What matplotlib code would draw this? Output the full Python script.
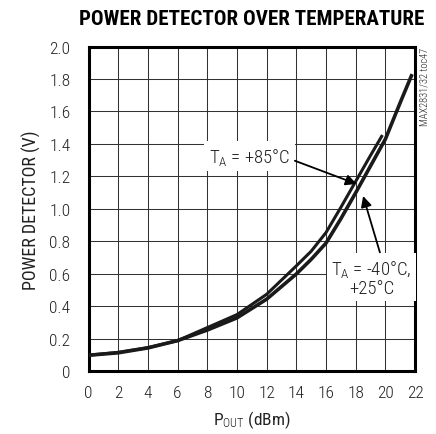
import matplotlib
matplotlib.use("Agg")
import matplotlib.pyplot as plt
from matplotlib import font_manager

# pick a narrow face if one is installed
names = {f.name for f in font_manager.fontManager.ttflist}
narrow = next((n for n in ["Roboto Condensed", "Liberation Sans Narrow", "DejaVu Sans Condensed",
                           "Open Sans Condensed"] if n in names), "DejaVu Sans")
plt.rcParams["font.family"] = [narrow, "DejaVu Sans"]
plt.rcParams["font.stretch"] = "condensed"
plt.rcParams["font.weight"] = "light"
plt.rcParams["mathtext.fontset"] = "custom"
plt.rcParams["mathtext.rm"] = narrow + ":light"
plt.rcParams["mathtext.it"] = narrow + ":light"

# -40C / +25C curve (V vs dBm)
pout_cold = [0, 2, 4, 6, 8, 10, 12, 14, 15, 16, 17, 18, 19, 20, 21, 21.8]
vdet_cold = [0.10, 0.115, 0.145, 0.19, 0.255, 0.33, 0.445, 0.60, 0.69, 0.79,
             0.94, 1.10, 1.265, 1.43, 1.655, 1.83]

# +85C curve
pout_hot = [0, 2, 4, 6, 8, 10, 12, 14, 15, 16, 17, 18, 19, 19.8]
vdet_hot = [0.10, 0.118, 0.147, 0.19, 0.27, 0.35, 0.475, 0.65, 0.74, 0.855,
            1.01, 1.17, 1.33, 1.455]

xticks = list(range(0, 23, 2))
yticks = [0, 0.2, 0.4, 0.6, 0.8, 1.0, 1.2, 1.4, 1.6, 1.8, 2.0]
ytick_labels = ["0", "0.2", "0.4", "0.6", "0.8", "1.0", "1.2", "1.4", "1.6", "1.8", "2.0"]

fig = plt.figure(figsize=(4.36, 4.35), dpi=100)
ax = fig.add_axes([0.203, 0.1437, 0.749, 0.7471])

ax.plot(pout_cold, vdet_cold, color="#1a1a1a", lw=2.6, solid_capstyle="butt", zorder=3)
ax.plot(pout_hot, vdet_hot, color="#1a1a1a", lw=2.2, solid_capstyle="butt", zorder=3)

ax.set_xlim(0, 22)
ax.set_ylim(0, 2.0)
ax.set_xticks(xticks)
ax.set_yticks(yticks)
ax.set_yticklabels(ytick_labels)
ax.tick_params(length=0, labelsize=12.5, colors="#222222")
ax.tick_params(axis="x", pad=10)
ax.tick_params(axis="y", pad=13)
ax.grid(True, color="#333333", lw=0.75)
ax.set_axisbelow(True)
for s in ax.spines.values():
    s.set_linewidth(2.2)
    s.set_color("black")

ax.set_xlabel("P$_\\mathrm{OUT}$ (dBm)", fontsize=12.5, color="#222222", labelpad=6)
ax.set_ylabel("POWER DETECTOR (V)", fontsize=13, color="#222222", labelpad=6)
title = ax.set_title("POWER DETECTOR OVER TEMPERATURE", fontsize=15.5, fontweight="bold", pad=16)

box = dict(boxstyle="square,pad=0.25", fc="white", ec="none")
arrow = dict(arrowstyle="-|>", color="black", lw=1.3, mutation_scale=16, shrinkA=0, shrinkB=0)

ax.text(10.86, 1.326, "T$_\\mathrm{A}$ = +85°C", fontsize=13.5, ha="center", va="center",
        bbox=box, color="#222222", zorder=4)
ax.annotate("", xy=(18.06, 1.154), xytext=(13.9, 1.297), arrowprops=arrow, zorder=5)

ax.text(19.06, 0.578, "T$_\\mathrm{A}$ = -40°C,\n+25°C", fontsize=13.5, ha="center", va="center",
        bbox=box, color="#222222", linespacing=0.95, zorder=4)
ax.annotate("", xy=(18.5, 1.08), xytext=(19.63, 0.733), arrowprops=arrow, zorder=5)

fig.text(0.973, 0.80, "MAX2831/32 toc47", rotation=90, fontsize=7.5, ha="center", va="center",
         color="#222222")

# keep the title inside the canvas if the face is wide
fig.canvas.draw()
w = title.get_window_extent().width
if w > 345:
    title.set_fontsize(15.5 * 345 / w)

fig.savefig("out.png", dpi=100)
